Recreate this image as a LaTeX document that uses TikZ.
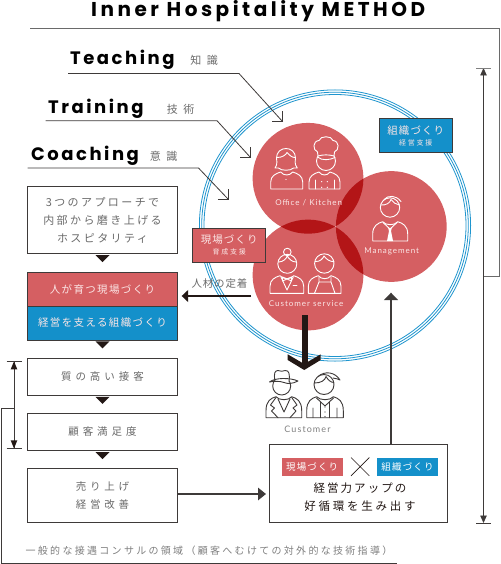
\documentclass[tikz,border=0pt]{standalone}
\usepackage{fontspec}
\usetikzlibrary{arrows.meta}
\newfontfamily\jpf{Noto Sans CJK JP}
\newfontfamily\titlef[LetterSpace=17.5]{Poppins}
\newfontfamily\headf[LetterSpace=14]{Poppins}
\newfontfamily\latf[LetterSpace=12]{Lato}
\newcommand\jt[3]{{\jpf\fontsize{#1}{#1}\selectfont\addfontfeature{LetterSpace=#2}#3}}
\newcommand\ttl[2]{{\titlef\bfseries\fontsize{#1}{#1}\selectfont #2}}
\newcommand\hd[2]{{\headf\bfseries\fontsize{#1}{#1}\selectfont #2}}
\newcommand\lt[2]{{\latf\fontsize{#1}{#1}\selectfont #2}}
\definecolor{cred}{HTML}{D55F62}
\definecolor{cdark}{HTML}{B31517}
\definecolor{cblue}{HTML}{1490CA}
\definecolor{cring}{HTML}{1F95CE}
\definecolor{ink}{HTML}{231815}
\definecolor{edge}{HTML}{3E3A39}
\definecolor{cgray}{HTML}{6A6A6A}
\definecolor{cpale}{HTML}{FBE6E6}
\tikzset{
  ringline/.style={draw=cring,line width=0.8},
  boxw/.style={draw=edge,line width=0.9,fill=white,inner sep=0,align=center,text=cgray},
  boxc/.style={draw=edge,line width=0.9,fill=#1,inner sep=0,align=center,text=cpale},
  badge/.style={fill=#1,inner sep=0,text=white},
  lab/.style={inner sep=0,text=#1},
  lead/.style={draw=edge,line width=0.8},
  icw/.style={draw=white,line width=0.9,line cap=round,line join=round},
  icd/.style={draw=edge,line width=0.9,line cap=round,line join=round},
  thin/.style={draw=edge,line width=0.8},
  thick/.style={draw=edge,line width=1.6},
  dbl/.style={{Triangle[length=7.5pt,width=6.5pt]}-{Triangle[length=7.5pt,width=6.5pt]}},
}
\newcommand\bodyic[5]{\draw[#1] (#2,#5) -- (#2,{#5-7}) .. controls (#2,{#4+4}) and ({#2+5},{#4+1.5}) .. ({#2+10},#4) .. controls ({#2+13},{#4+4}) and ({#3-13},{#4+4}) .. ({#3-10},#4) .. controls ({#3-5},{#4+1.5}) and (#3,{#4+4}) .. (#3,{#5-7}) -- (#3,#5) -- cycle;}
\newcommand\tridown[1]{\fill[ink] ([xshift=-7pt,yshift=-1pt]#1.south) -- ([xshift=7pt,yshift=-1pt]#1.south) -- ([yshift=-8pt]#1.south) -- cycle;}
\begin{document}
\begin{tikzpicture}[x=1pt,y=-1pt]
\useasboundingbox (0,0) rectangle (500,564);
\fill[white] (0,0) rectangle (500,564);
% rings
\coordinate (rc) at (335,225.5);
\foreach \r in {135.6,133.3,131} \draw[ringline] (rc) circle[radius=\r];
% red circles
\coordinate (ca) at (308,178.3);
\coordinate (cb) at (308,275);
\coordinate (cc) at (391.3,226.5);
\fill[cred] (ca) circle[radius=55.4];
\fill[cred] (cb) circle[radius=55.4];
\fill[cred] (cc) circle[radius=55.4];
\begin{scope}\clip (ca) circle[radius=55.4]; \fill[cdark] (cb) circle[radius=55.4]; \fill[cdark] (cc) circle[radius=55.4];\end{scope}
\begin{scope}\clip (cb) circle[radius=55.4]; \fill[cdark] (cc) circle[radius=55.4];\end{scope}
% title and frame
\node[lab=black,anchor=base west] (title) at (91,16.5) {\ttl{20}{Inner Hospitality METHOD}};
\coordinate (fa) at (30,28);
\coordinate (fb) at (499.2,28);
\coordinate (fc) at (499.2,276);
\coordinate (fd) at (483.5,276);
\draw[draw=cgray,line width=0.9] (fa) -- (fb) -- (fc) -- (fd);
% headings
\node[lab=black,anchor=base west] (tch) at (70,64.5) {\hd{18}{Teaching}};
\node[lab=cgray] (tchj) at (204,60.5) {\jt{11}{50}{知識}};
\node[lab=black,anchor=base west] (trn) at (48,113.3) {\hd{18}{Training}};
\node[lab=cgray] (trnj) at (180.5,109) {\jt{11}{50}{技術}};
\node[lab=black,anchor=base west] (cch) at (31,160.7) {\hd{18}{Coaching}};
\node[lab=cgray] (cchj) at (163.5,156) {\jt{11}{50}{意識}};
\coordinate (l1a) at (68,73.5); \coordinate (l1b) at (239,73.5); \coordinate (l1c) at (282.7,121.7);
\coordinate (l2a) at (45.5,120.7); \coordinate (l2b) at (217,120.7); \coordinate (l2c) at (250.7,157.7);
\coordinate (l3a) at (27.5,168); \coordinate (l3b) at (198.5,168); \coordinate (l3c) at (228.3,199.3);
\foreach \n in {1,2,3} {
  \draw[lead] (l\n a) -- (l\n b) -- (l\n c);
  \draw[lead] ([xshift=-10.5pt]l\n c) -- (l\n c) -- ([yshift=10.5pt]l\n c);
}
% diagram badges
\node[boxc=cblue,minimum width=73pt,minimum height=33.7pt,font=\fontsize{10}{11.5}\selectfont] (bb) at (415.8,135.8) {\jt{10.5}{10}{組織づくり}\\[-0.5pt]\jt{7}{25}{経営支援}};
\node[boxc=cred,minimum width=73pt,minimum height=34pt,font=\fontsize{10}{11.5}\selectfont] (rb) at (229.2,245.3) {\jt{10.5}{10}{現場づくり}\\[-0.5pt]\jt{7}{25}{育成支援}};
% left boxes
\node[boxw,minimum width=150.4pt,minimum height=67pt,font=\fontsize{10}{17.7}\selectfont] (b1) at (102.5,220.2) {\jt{11}{22}{3つのアプローチで}\\\jt{11}{22}{内部から磨き上げる}\\\jt{11}{22}{ホスピタリティ}};
\node[boxc=cred,minimum width=150.4pt,minimum height=33.7pt] (b2) at (102.5,289.2) {\jt{10.5}{13}{人が育つ現場づくり}};
\node[boxc=cblue,minimum width=150.4pt,minimum height=34pt] (b3) at (102.5,323) {\jt{10.5}{13}{経営を支える組織づくり}};
\node[boxw,minimum width=150.4pt,minimum height=37pt] (b4) at (102.5,376.8) {\jt{10.5}{38}{質の高い接客}};
\node[boxw,minimum width=150.4pt,minimum height=37.4pt] (b5) at (102.5,432) {\jt{10.5}{37}{顧客満足度}};
\node[boxw,minimum width=150.4pt,minimum height=53.6pt,font=\fontsize{10}{17.3}\selectfont] (b6) at (102.5,495.5) {\jt{10.5}{36}{売り上げ}\\\jt{10.5}{36}{経営改善}};
\tridown{b1}\tridown{b3}\tridown{b4}\tridown{b5}
% double arrow left
\coordinate (da) at (14,361.3); \coordinate (db) at (14,448.4);
\draw[thin] (da) -- (db);
\fill[ink] (da) -- ([xshift=-3.3pt,yshift=-8pt]da) -- ([xshift=3.3pt,yshift=-8pt]da) -- cycle;
\fill[ink] (db) -- ([xshift=-3.3pt,yshift=8pt]db) -- ([xshift=3.3pt,yshift=8pt]db) -- cycle;
\draw[draw=edge,line width=0.6] ([xshift=-7.5pt]da) -- ([xshift=7.5pt]da);
\draw[draw=edge,line width=0.6] ([xshift=-7.5pt]db) -- ([xshift=7.5pt]db);
% frame left/bottom
\coordinate (ga) at (14,408.3); \coordinate (gb) at (1.5,408.3); \coordinate (gc) at (1.5,563.3); \coordinate (gd) at (396.7,563.3);
\draw[thin] (ga) -- (gb) -- (gc) -- (gd);
\node[lab=gray] (note) at (209,551) {\jt{10}{23}{一般的な接遇コンサルの領域（顧客へむけての対外的な技術指導）}};
% right double arrow
\coordinate (ra) at (483.5,68); \coordinate (rb) at (483.5,523);
\draw[thin,dbl] (ra) -- (rb);
\draw[draw=gray,line width=0.6] ([xshift=-7.5pt]ra) -- ([xshift=7.5pt]ra);
\draw[draw=edge,line width=0.6] ([xshift=-7.5pt]rb) -- ([xshift=7.5pt]rb);
% result box
\node[boxw,draw=edge,minimum width=178.3pt,minimum height=77.3pt] (res) at (358.2,483.4) {};
\node[badge=cred,minimum width=61pt,minimum height=18pt] (bg1) at (312.2,467) {\jt{9.5}{12}{現場づくり}};
\node[badge=cblue,minimum width=61.6pt,minimum height=18pt] (bg2) at (407.5,467) {\jt{9.5}{12}{組織づくり}};
\coordinate (xa) at (351,457.5); \coordinate (xb) at (369.3,475.8); \coordinate (xc) at (369.3,457.5); \coordinate (xd) at (351,475.8);
\draw[draw=ink,line width=0.7] (xa) -- (xb) (xc) -- (xd);
\node[lab=ink] (rt1) at (360,488) {\jt{11.5}{18}{経営力アップの}};
\node[lab=ink] (rt2) at (360,506) {\jt{11.5}{24}{好循環を生み出す}};
% arrows
\coordinate (ae) at (266,494);
\draw[thick,-{Triangle[length=8pt,width=12.5pt]}] (b6.east |- ae) -- (ae);
\coordinate (ua) at (391,444.7); \coordinate (ub) at (391,292.7);
\draw[thick,-{Triangle[length=7.5pt,width=14pt]}] (ua) -- (ub);
\coordinate (ha) at (251,296); \coordinate (hb) at (181.7,296);
\draw[draw=ink,line width=1.3,-{Triangle[length=6.5pt,width=12pt]}] (ha) -- (hb);
\node[lab=cgray] (hl) at (219.5,284) {\jt{10.5}{8}{人材の定着}};
% big arrow
\coordinate (ba) at (304.7,315); \coordinate (bb2) at (304.7,366);
\draw[draw=ink,line width=6] (ba) -- (bb2);
\fill[ink] (287.7,354.3) -- (304.2,364) -- (320.7,354.3) -- (320.7,360) -- (304.2,370) -- (287.7,360) -- cycle;
% office woman
\draw[icw] (286,159.5) circle[radius=9];
\draw[icw,fill=cred] (275,168) .. controls (278,164) and (276.5,160) .. (276.5,158) .. controls (276.5,152) and (281,148.5) .. (286,148.5) .. controls (291,148.5) and (295.5,152) .. (295.5,158) .. controls (295.5,160) and (294,164) .. (297.3,168) -- (293.5,168) .. controls (291,171) and (281,171) .. (278.5,168) -- cycle;
\draw[icw] (277.3,157.5) .. controls (282,157.5) and (286,155) .. (287,152.5) .. controls (289,155) and (292,157.5) .. (294.7,157.5);
\bodyic{icw}{270.7}{302.7}{172}{189}
\fill[white] (286,179.5) circle[radius=0.7];
% chef
\bodyic{icw}{309}{340}{172}{189}
\draw[icw] (326,161) circle[radius=9.5];
\draw[icw,fill=cred] (318,156) -- (317.5,152) .. controls (312.5,150) and (312.5,141) .. (319,140.5) .. controls (320,135.5) and (332,135.5) .. (333,140.5) .. controls (339.5,141) and (339.5,150) .. (334.5,152) -- (334,156) .. controls (329,154.5) and (323,154.5) .. (318,156) -- cycle;
\draw[icw] (317.5,157) .. controls (322,161) and (330,160) .. (335,157.5);
\draw[icw] (315.7,189) -- (315.7,180) (334,189) -- (334,180);
\foreach \p/\q in {321.7/181.7,327.3/181.7,321.7/187.3,327.3/187.3} \fill[white] (\p,\q) circle[radius=0.7];
\node[lab=cpale] (tk) at (308.7,202.7) {\lt{8}{Office / Kitchen}};
% management
\draw[icw] (390,207.5) circle[radius=9.7];
\draw[icw] (380.5,205) .. controls (386,205.5) and (390,203) .. (391,199.5) .. controls (393,202.5) and (396,204.5) .. (399.5,205);
\draw[icw] (384,199.5) .. controls (388,195) and (396,195) .. (401,201.5);
\bodyic{icw}{372.7}{407.7}{221.7}{241}
\draw[icw] (383,222.5) -- (390,229) -- (397,222.5);
\fill[white] (388.2,228) -- (391.8,228) -- (391,231) -- (393,241) -- (387,241) -- (389,231) -- cycle;
\node[lab=cpale] (tm) at (391.7,251) {\lt{8}{Management}};
% service woman
\draw[icw] (287.3,263.8) circle[radius=9.5];
\draw[icw] (287.3,252) circle[radius=3.8];
\draw[icw] (278.5,262) .. controls (283,262) and (286,259) .. (287.3,256) .. controls (289,259) and (292,262) .. (296,262);
\bodyic{icw}{270}{303.7}{275.7}{293.3}
\draw[icw] (281,277) -- (287,290) -- (293.3,277);
\draw[icw] (282.5,277) -- (291.5,281) -- (291.5,277) -- (282.5,281) -- cycle;
\draw[icw] (293,285.5) -- (297,285.5);
% apron man
\draw[icw] (324.3,263.5) circle[radius=9.7];
\draw[icw] (315,261.5) .. controls (320,262) and (323,258.5) .. (324,256) .. controls (326,259) and (330,262) .. (334,261.5);
\bodyic{icw}{308.3}{341}{275.7}{293.3}
\draw[icw] (314.5,293.3) -- (319,282) -- (331,282) -- (335,293.3) (319,282) -- (319,277) (331,282) -- (331,277);
\node[lab=cpale] (ts) at (306.2,303.3) {\lt{8}{Customer service}};
% customers
\draw[icd] (281.7,386) circle[radius=9];
\draw[icd,fill=white] (275,381) .. controls (273.5,373) and (275,370.5) .. (278,370.5) .. controls (280,371.5) and (283,371.5) .. (285.5,370.5) .. controls (289,370.5) and (290,374) .. (289,381);
\draw[icd] (269.5,382) .. controls (275,377.5) and (290,377.5) .. (298,381) .. controls (292,384) and (288,384) .. (284,382.5) .. controls (280,381) and (274,381) .. (269.5,382) -- cycle;
\bodyic{icd}{266}{301.7}{396.7}{417.7}
\draw[icd] (276,397.5) -- (270.5,405) -- (274.5,408) -- (271.5,411) -- (278,417.7);
\draw[icd] (291.7,397.5) -- (297,405) -- (293,408) -- (296,411) -- (290,417.7);
\draw[icd] (278,399) -- (284,412) -- (290,399);
\draw[icd] (324,384.5) circle[radius=10];
\draw[icd] (314.3,383) .. controls (321,383) and (325,380.5) .. (326,376.5) .. controls (328,380) and (331,382.5) .. (333.8,382.5);
\draw[icd] (318,376.5) .. controls (325,370.5) and (335,372) .. (340,380) .. controls (338,379) and (336,378.5) .. (333,378);
\bodyic{icd}{306.7}{343.3}{396.7}{417.7}
\draw[icd] (316.5,398) -- (325,406) -- (333.5,398) (320.5,402) -- (320.5,417.7) (329.5,402) -- (329.5,417.7) (313,417.7) -- (313,408) (337,417.7) -- (337,408);
\foreach \q in {407,412,416.5} \fill[edge] (325,\q) circle[radius=0.7];
\node[lab=gray] (tc) at (307.5,429) {\lt{9}{Customer}};
\end{tikzpicture}
\end{document}
